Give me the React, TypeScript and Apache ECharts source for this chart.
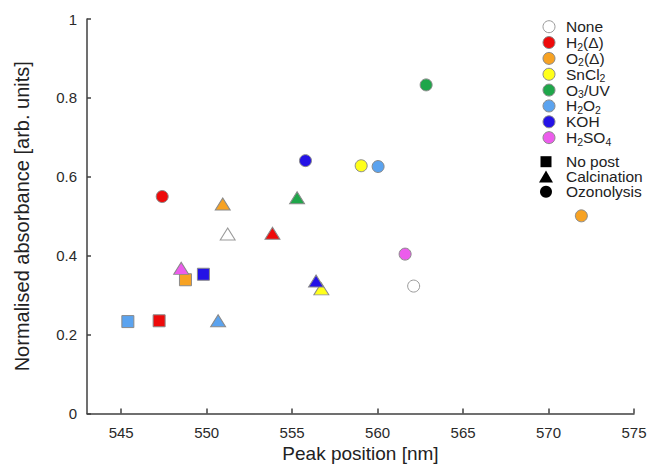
import React, { useEffect, useRef } from "react";
import * as echarts from "echarts";

// Treatment groups (colour legend)
const treatments = ["None", "H2(Δ)", "O2(Δ)", "SnCl2", "O3/UV", "H2O2", "KOH", "H2SO4"];
const treatmentLabels = [
  "{n|None}",
  "{n|H}{s|2}{n|(Δ)}",
  "{n|O}{s|2}{n|(Δ)}",
  "{n|SnCl}{s|2}",
  "{n|O}{s|3}{n|/UV}",
  "{n|H}{s|2}{n|O}{s|2}",
  "{n|KOH}",
  "{n|H}{s|2}{n|SO}{s|4}",
];
const treatmentColors = ["#ffffff", "#ee0a0a", "#f7a223", "#ffff1a", "#1fa64a", "#5ba3ef", "#2412e6", "#ec5cec"];

// Post-processing (shape legend)
const postNames = ["No post", "Calcination", "Ozonolysis"];
const postSymbols = ["rect", "triangle", "circle"];

// Data: [peak position nm, normalised absorbance, post-processing index]
const noneData = [[551.23, 0.455, 1], [562.11, 0.323, 2]];
const h2Data = [[547.22, 0.235, 0], [553.85, 0.457, 1], [547.4, 0.55, 2]];
const o2Data = [[548.76, 0.339, 0], [550.94, 0.531, 1], [571.92, 0.501, 2]];
const sncl2Data = [[556.71, 0.316, 1], [559.04, 0.628, 2]];
const o3Data = [[555.29, 0.547, 1], [562.84, 0.833, 2]];
const h2o2Data = [[545.39, 0.233, 0], [550.67, 0.235, 1], [560.03, 0.626, 2]];
const kohData = [[549.81, 0.353, 0], [556.4, 0.336, 1], [555.78, 0.641, 2]];
const h2so4Data = [[548.51, 0.368, 1], [561.61, 0.404, 2]];
const seriesData = [noneData, h2Data, o2Data, sncl2Data, o3Data, h2o2Data, kohData, h2so4Data];

const xTicks = [545, 550, 555, 560, 565, 570, 575];
const FONT = "'Liberation Sans', Arial, sans-serif";
const TEXT = "#222222";

export default function App() {
  const ref = useRef<HTMLDivElement>(null);
  useEffect(() => {
    if (!ref.current) return;
    const chart = echarts.init(ref.current, null, { renderer: "svg" });
    const symbolSize = (v: number[]) => (v[2] === 1 ? [15, 12] : 12);
    const series: any[] = treatments.map((name, i) => ({
      name,
      type: "scatter",
      data: seriesData[i],
      symbol: (v: number[]) => postSymbols[v[2]],
      symbolSize,
      itemStyle: {
        color: treatmentColors[i],
        borderColor: i === 0 ? "#9a9a9a" : "#8a8a8a",
        borderWidth: 1,
        opacity: 1,
      },
    }));

    const rich = {
      n: { fontSize: 15.5, fontFamily: FONT, fill: TEXT, lineHeight: 15.6 },
      s: { fontSize: 10.5, fontFamily: FONT, fill: TEXT, lineHeight: 15.6, padding: [8, 0, 0, 0] },
    };
    const legendEls: any[] = [];
    const rowY1 = 26.7;
    const gap1 = 15.85;
    treatments.forEach((name, i) => {
      const y = rowY1 + i * gap1;
      legendEls.push({
        type: "circle",
        shape: { cx: 549, cy: y, r: 6 },
        style: { fill: treatmentColors[i], stroke: i === 0 ? "#9a9a9a" : "#8a8a8a", lineWidth: 1 },
        silent: true,
      });
      legendEls.push({
        type: "text",
        x: 566,
        y,
        style: { text: treatmentLabels[i], rich, verticalAlign: "middle", align: "left" },
        silent: true,
      });
    });
    const rowY2 = [161.7, 176.5, 191.7];
    postNames.forEach((name, i) => {
      const y = rowY2[i];
      const cx = 546;
      if (postSymbols[i] === "rect") {
        legendEls.push({ type: "rect", shape: { x: cx - 5.5, y: y - 5.5, width: 11, height: 11 }, style: { fill: "#000" }, silent: true });
      } else if (postSymbols[i] === "triangle") {
        legendEls.push({
          type: "polygon",
          shape: { points: [[cx, y - 6], [cx + 7, y + 6], [cx - 7, y + 6]] },
          style: { fill: "#000" },
          silent: true,
        });
      } else {
        legendEls.push({ type: "circle", shape: { cx, cy: y, r: 6 }, style: { fill: "#000" }, silent: true });
      }
      legendEls.push({
        type: "text",
        x: 566,
        y,
        style: { text: name, fontSize: 15.5, fontFamily: FONT, fill: TEXT, verticalAlign: "middle", align: "left", lineHeight: 14 },
        silent: true,
      });
    });

    chart.setOption({
      animation: false,
      backgroundColor: "#ffffff",
      grid: { left: 87, right: 14, top: 19, bottom: 50.5, containLabel: false, outerBoundsMode: "none" },
      graphic: legendEls,
      xAxis: {
        type: "value",
        min: 543,
        max: 575,
        name: "Peak position [nm]",
        nameLocation: "middle",
        nameGap: 28,
        nameTextStyle: { fontSize: 19, fontFamily: FONT, color: TEXT },
        axisLine: { show: true, lineStyle: { color: "#404040", width: 1.5 } },
        axisTick: { show: true, inside: true, length: 5, customValues: xTicks, lineStyle: { color: "#404040", width: 1.5 } },
        axisLabel: { customValues: xTicks, fontSize: 15, fontFamily: FONT, color: "#2a2a2a", margin: 11 },
        splitLine: { show: false },
      },
      yAxis: {
        type: "value",
        min: 0,
        max: 1,
        interval: 0.2,
        name: "Normalised absorbance [arb. units]",
        nameLocation: "middle",
        nameGap: 55,
        nameTextStyle: { fontSize: 20, fontFamily: FONT, color: TEXT },
        axisLine: { show: true, lineStyle: { color: "#404040", width: 1.5 } },
        axisTick: { show: true, inside: true, length: 4, lineStyle: { color: "#404040", width: 1.5 } },
        axisLabel: { fontSize: 15, fontFamily: FONT, color: "#2a2a2a", margin: 10 },
        splitLine: { show: false },
      },
      series,
    });
    return () => chart.dispose();
  }, []);
  return (
    <div
      ref={ref}
      style={{ position: "fixed", left: 0, top: 0, width: 648, height: 464, background: "#fff" }}
    />
  );
}
